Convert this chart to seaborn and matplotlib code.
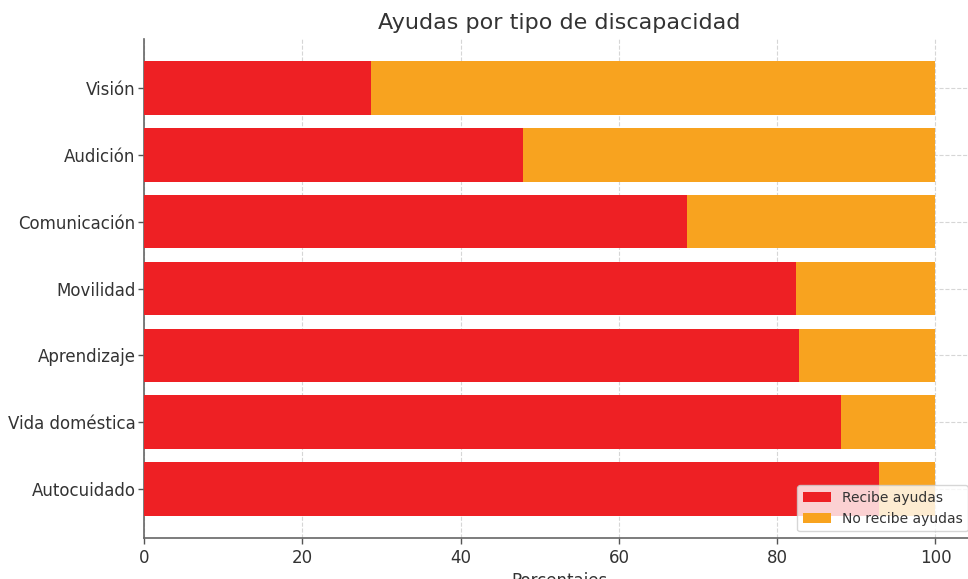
import matplotlib
matplotlib.use("Agg")
import matplotlib.pyplot as plt
import seaborn as sns
import pandas as pd

# Data
categorias = ["Visión", "Audición", "Comunicación", "Movilidad",
              "Aprendizaje", "Vida doméstica", "Autocuidado"]
recibe = [28.7, 47.9, 68.6, 82.4, 82.8, 88.1, 92.9]
no_recibe = [71.3, 52.1, 31.4, 17.6, 17.2, 11.9, 7.1]

df = pd.DataFrame({"categoria": categorias, "recibe": recibe, "no_recibe": no_recibe})
df["total"] = df["recibe"] + df["no_recibe"]

sns.set_style("white")
plt.rcParams["font.family"] = ["DejaVu Sans"]
plt.rcParams["text.color"] = "#333333"
plt.rcParams["axes.labelcolor"] = "#333333"
plt.rcParams["xtick.color"] = "#333333"
plt.rcParams["ytick.color"] = "#333333"

fig = plt.figure(figsize=(9.68, 5.79), dpi=100)
ax = fig.add_axes([0.1488, 0.0701, 0.8585, 0.863])

# stacked horizontal bars: full length first, then the red part on top
sns.barplot(data=df, y="categoria", x="total", color="#F8A31F", saturation=1,
            width=0.8, ax=ax, label="No recibe ayudas", zorder=2, linewidth=0)
sns.barplot(data=df, y="categoria", x="recibe", color="#EE2024", saturation=1,
            width=0.8, ax=ax, label="Recibe ayudas", zorder=3, linewidth=0)

ax.set_xlim(0, 105)
ax.set_ylim(6.74, -0.74)
ax.set_xticks([0, 20, 40, 60, 80, 100])
ax.set_title("Ayudas por tipo de discapacidad", fontsize=16, pad=7)
ax.set_xlabel("Porcentajes", fontsize=12, labelpad=4)
ax.set_ylabel("")
ax.tick_params(axis="both", labelsize=12)
ax.tick_params(axis="y", length=4, width=1, color="#555555", left=True, pad=2)
ax.tick_params(axis="x", length=4, width=1, color="#555555", bottom=True)

ax.grid(True, linestyle="--", color="#cccccc", linewidth=0.8, alpha=0.8, zorder=0)
ax.set_axisbelow(True)
for s in ["top", "right"]:
    ax.spines[s].set_visible(False)
for s in ["left", "bottom"]:
    ax.spines[s].set_color("#666666")
    ax.spines[s].set_linewidth(1.2)

handles, labels = ax.get_legend_handles_labels()
ax.legend(handles[::-1], labels[::-1], loc="lower right", fontsize=10, frameon=True,
          framealpha=0.8, edgecolor="#cccccc", fancybox=True)

fig.savefig("out.png", dpi=100)
